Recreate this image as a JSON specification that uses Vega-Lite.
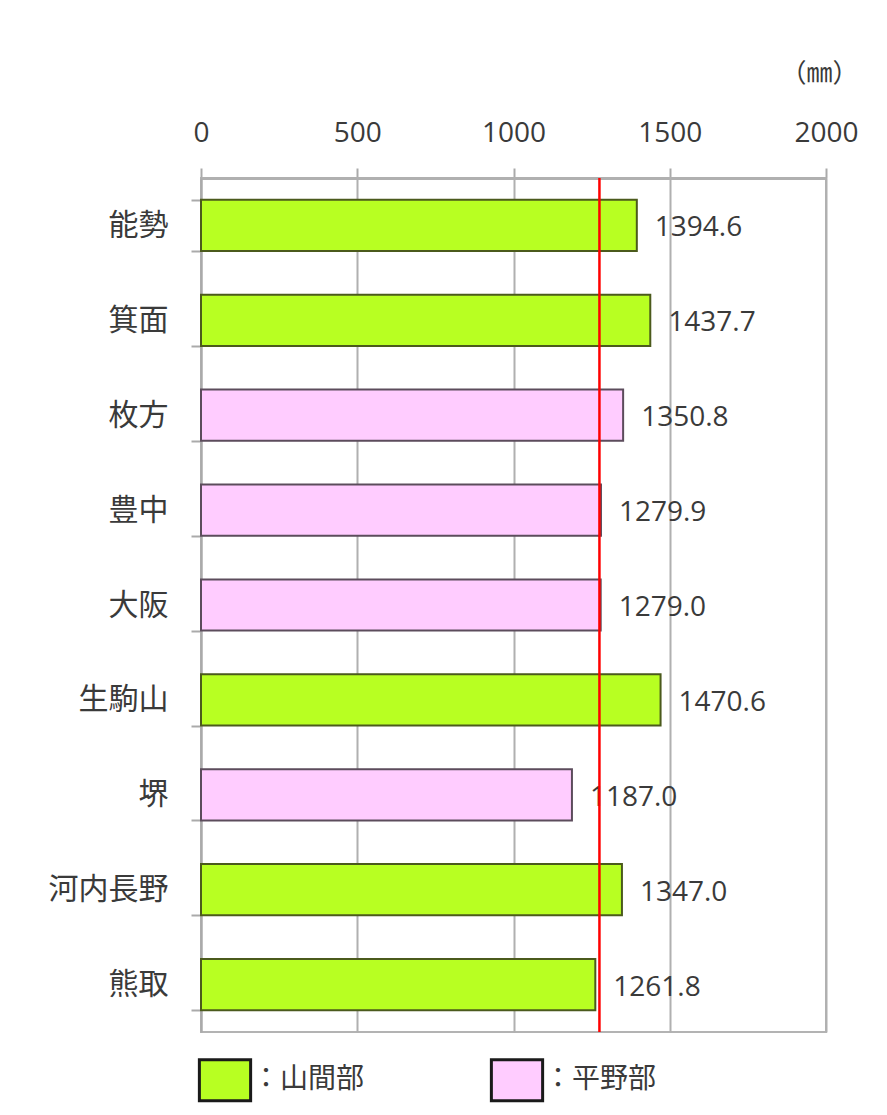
{
  "$schema": "https://vega.github.io/schema/vega-lite/v6.json",
  "width": 625,
  "height": 854,
  "autosize": {"type": "none"},
  "padding": {"left": 201, "top": 178, "right": 61, "bottom": 83},
  "background": "white",
  "config": {"view": {"stroke": "#b3b3b3", "strokeWidth": 2}, "font": "Open Sans"},
  "data": {
    "values": [
      {"station": "能勢", "rain": 1394.6, "region": "山間部"},
      {"station": "箕面", "rain": 1437.7, "region": "山間部"},
      {"station": "枚方", "rain": 1350.8, "region": "平野部"},
      {"station": "豊中", "rain": 1279.9, "region": "平野部"},
      {"station": "大阪", "rain": 1279.0, "region": "平野部"},
      {"station": "生駒山", "rain": 1470.6, "region": "山間部"},
      {"station": "堺", "rain": 1187.0, "region": "平野部"},
      {"station": "河内長野", "rain": 1347.0, "region": "山間部"},
      {"station": "熊取", "rain": 1261.8, "region": "山間部"}
    ]
  },
  "encoding": {
    "y": {
      "field": "station", "type": "nominal", "sort": null,
      "scale": {"paddingInner": 0.46, "paddingOuter": 0.23},
      "axis": {
        "title": null, "labelFontSize": 30, "labelFont": "Noto Sans CJK JP", "labelColor": "#3a3a3a",
        "tickBand": "extent", "tickSize": 10, "tickColor": "#aaaaaa", "tickWidth": 2,
        "domainColor": "#aaaaaa", "domainWidth": 2, "labelPadding": 23, "grid": false
      }
    },
    "x": {
      "field": "rain", "type": "quantitative",
      "scale": {"domain": [0, 2000], "nice": false},
      "axis": {
        "orient": "top", "values": [0, 500, 1000, 1500, 2000], "format": "d",
        "title": "（㎜）", "titleX": 657, "titleY": -105, "titleAlign": "right", "titleBaseline": "middle",
        "titleFontSize": 26, "titleFontWeight": "normal", "titleFont": "Noto Sans CJK JP", "titleColor": "#3a3a3a",
        "labelFontSize": 28, "labelFont": "Open Sans", "labelColor": "#3a3a3a", "labelFlush": false,
        "tickSize": 10, "tickColor": "#aaaaaa", "tickWidth": 2,
        "domainColor": "#b0b0b0", "domainWidth": 3, "labelPadding": 21,
        "grid": true, "gridColor": "#b0b0b0", "gridWidth": 2
      }
    }
  },
  "layer": [
    {
      "mark": {"type": "bar", "strokeWidth": 2},
      "encoding": {
        "fill": {
          "field": "region", "type": "nominal",
          "scale": {"domain": ["山間部", "平野部"], "range": ["#B8FF22", "#FFCCFF"]},
          "legend": {
            "orient": "none", "legendX": 2, "legendY": 880, "direction": "horizontal", "title": null,
            "symbolType": "M-1.25,-1L1.25,-1L1.25,1L-1.25,1Z", "symbolSize": 1681,
            "symbolStrokeColor": "#1a1a1a", "symbolStrokeWidth": 3, "symbolOpacity": 1,
            "labelFontSize": 28, "labelFont": "Noto Sans CJK JP", "labelColor": "#3a3a3a",
            "labelExpr": "'：' + datum.label", "columnPadding": 120, "labelOffset": 5,
            "encode": {"symbols": {"enter": {"stroke": {"value": "#1a1a1a"}}, "update": {"stroke": {"value": "#1a1a1a"}, "strokeWidth": {"value": 3}}}}
          }
        },
        "stroke": {
          "condition": {"test": "datum.region === '山間部'", "value": "#4b5a1c"},
          "value": "#5c4c5c"
        }
      }
    },
    {
      "mark": {"type": "text", "align": "left", "baseline": "middle", "dx": 18, "dy": 3, "fontSize": 28, "font": "Open Sans", "color": "#3a3a3a"},
      "encoding": {"text": {"field": "rain", "type": "quantitative", "format": ".1f"}}
    },
    {
      "data": {"values": [{"ref": 1275}]},
      "mark": {"type": "rule", "color": "#ff0000", "strokeWidth": 2.5},
      "encoding": {"x": {"field": "ref", "type": "quantitative"}, "y": null}
    }
  ]
}
